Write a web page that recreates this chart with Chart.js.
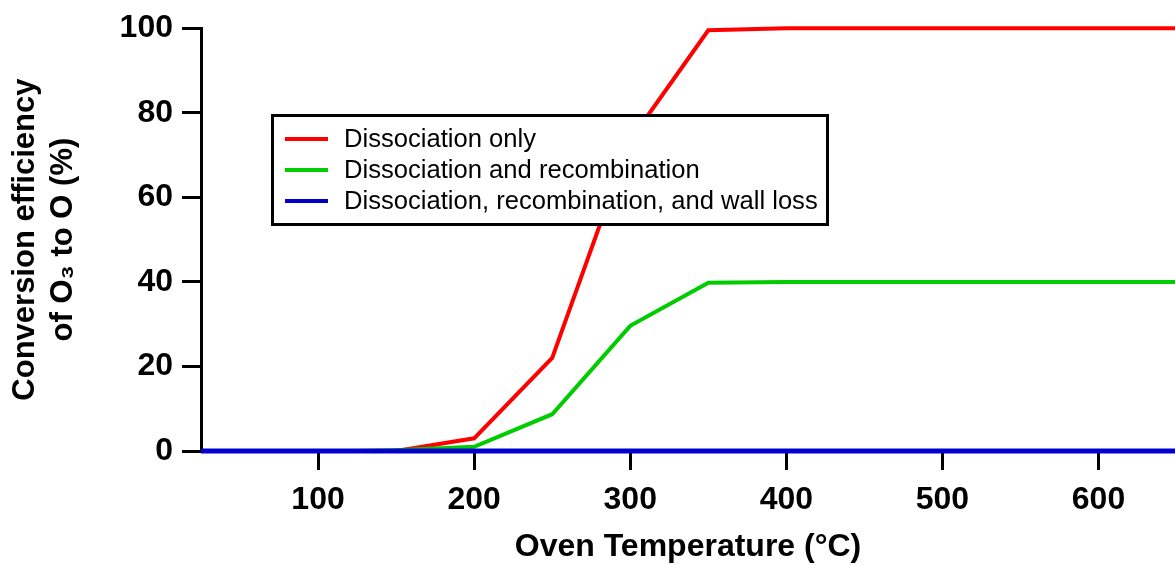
<!DOCTYPE html>
<html>
<head>
<meta charset="utf-8">
<script src="https://cdn.jsdelivr.net/npm/chart.js@4.4.1/dist/chart.umd.min.js"></script>
<style>
  html, body { margin: 0; padding: 0; background: #fff; }
  #wrap { position: relative; width: 1175px; height: 565px; }
</style>
</head>
<body>
<div id="wrap"><canvas id="c" width="1175" height="565"></canvas></div>
<script>
// ---- data ----
const tempModel = [125, 150, 200, 250, 300, 350, 400, 450, 500, 550, 600, 650];
const dissocOnly = [0, 0, 3, 22, 73.5, 99.5, 100, 100, 100, 100, 100, 100];
const dissocRecomb = [0, 0.2, 1, 8.7, 29.6, 39.8, 40, 40, 40, 40, 40, 40];
const tempWall = [25, 100, 200, 300, 400, 500, 600, 650];
const dissocRecombWall = [0, 0, 0, 0, 0, 0, 0, 0];
const xTicks = [100, 200, 300, 400, 500, 600];
const yTicks = [0, 20, 40, 60, 80, 100];
const seriesLabels = ['Dissociation only', 'Dissociation and recombination', 'Dissociation, recombination, and wall loss'];
const seriesColors = ['#FF0000', '#00CC00', '#0000CC'];

const FONT = "'Liberation Sans', Arial, Helvetica, sans-serif";

function pts(xs, ys) { return xs.map((x, i) => ({ x: x, y: ys[i] })); }

const legendPlugin = {
  id: 'boxLegend',
  afterDraw(chart) {
    const ctx = chart.ctx;
    ctx.save();
    const bx = 272.5, by = 115.5, bw = 555, bh = 109;
    ctx.fillStyle = '#fff';
    ctx.fillRect(bx, by, bw, bh);
    ctx.lineWidth = 3;
    ctx.strokeStyle = '#000';
    ctx.strokeRect(bx, by, bw, bh);
    ctx.font = '25.6px ' + FONT;
    ctx.textBaseline = 'middle';
    ctx.textAlign = 'left';
    chart.data.datasets.forEach((ds, i) => {
      const y = 139 + i * 31;
      ctx.strokeStyle = ds.borderColor;
      ctx.lineWidth = 4;
      ctx.beginPath();
      ctx.moveTo(285, y);
      ctx.lineTo(328, y);
      ctx.stroke();
      ctx.fillStyle = '#000';
      ctx.fillText(ds.label, 344, y + 1);
    });
    ctx.restore();
  }
};

new Chart(document.getElementById('c'), {
  type: 'line',
  data: {
    datasets: [
      { label: seriesLabels[0], data: pts(tempModel, dissocOnly), borderColor: seriesColors[0], borderWidth: 4, order: 3 },
      { label: seriesLabels[1], data: pts(tempModel, dissocRecomb), borderColor: seriesColors[1], borderWidth: 4, order: 2 },
      { label: seriesLabels[2], data: pts(tempWall, dissocRecombWall), borderColor: seriesColors[2], borderWidth: 5, order: 1 }
    ]
  },
  options: {
    responsive: false,
    animation: false,
    devicePixelRatio: 1,
    layout: { padding: { top: 27, right: 0, bottom: 0, left: 0 } },
    elements: {
      point: { radius: 0, hoverRadius: 0 },
      line: { tension: 0, borderCapStyle: 'butt', borderJoinStyle: 'miter', fill: false }
    },
    datasets: { line: { clip: false } },
    plugins: {
      legend: { display: false },
      tooltip: { enabled: false }
    },
    scales: {
      x: {
        type: 'linear',
        min: 25,
        max: 649,
        afterBuildTicks(scale) { scale.ticks = xTicks.map(v => ({ value: v })); },
        afterFit(scale) { scale.height = 114; },
        ticks: {
          color: '#000',
          padding: 11,
          maxRotation: 0,
          font: { family: FONT, size: 32, weight: 'bold' }
        },
        grid: { drawOnChartArea: false, drawTicks: true, tickLength: 19, color: '#000', lineWidth: 3 },
        border: { display: true, color: '#000', width: 3 },
        title: {
          display: true,
          text: 'Oven Temperature (°C)',
          color: '#000',
          padding: { top: 0, bottom: 0 },
          font: { family: FONT, size: 32, weight: 'bold', lineHeight: 1.1 }
        }
      },
      y: {
        type: 'linear',
        min: 0,
        max: 100,
        afterBuildTicks(scale) { scale.ticks = yTicks.map(v => ({ value: v })); },
        afterFit(scale) { scale.width = 201; },
        ticks: {
          color: '#000',
          padding: 9,
          font: { family: FONT, size: 32, weight: 'bold' }
        },
        grid: { drawOnChartArea: false, drawTicks: true, tickLength: 19, color: '#000', lineWidth: 3 },
        border: { display: true, color: '#000', width: 3 },
        title: {
          display: true,
          text: ['Conversion efficiency', 'of O\u2083 to O (%)'],
          color: '#000',
          padding: { top: 7, bottom: 0 },
          font: { family: FONT, size: 31, weight: 'bold', lineHeight: 1.22 }
        }
      }
    }
  },
  plugins: [legendPlugin]
});
</script>
</body>
</html>
